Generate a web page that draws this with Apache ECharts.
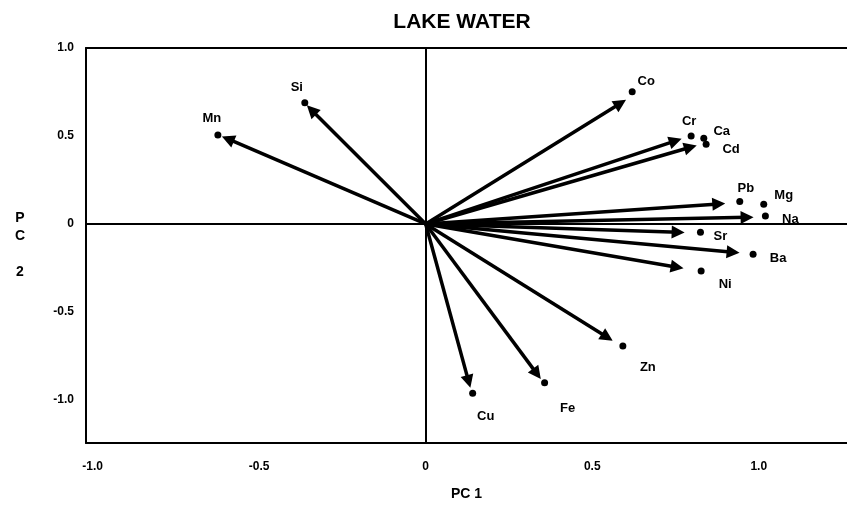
<!DOCTYPE html>
<html>
<head>
<meta charset="utf-8">
<script src="https://cdn.jsdelivr.net/npm/echarts@6/dist/echarts.min.js"></script>
<style>
html,body{margin:0;padding:0;background:#fff;}
#chart{width:847px;height:514px;}
</style>
</head>
<body>
<div id="chart"></div>
<script>
// ---- data ----
const titleText = 'LAKE WATER';
const categories = ['Si','Mn','Co','Cr','Ca','Cd','Pb','Mg','Na','Sr','Ba','Ni','Zn','Fe','Cu'];
const pointPC1 = [-0.363,-0.624,0.620,0.797,0.835,0.842,0.943,1.015,1.020,0.825,0.983,0.827,0.592,0.357,0.141];
const pointPC2 = [0.689,0.506,0.752,0.500,0.487,0.453,0.127,0.112,0.045,-0.047,-0.172,-0.267,-0.693,-0.902,-0.962];
const arrowPC1 = [-0.343,-0.594,0.585,0.750,null,0.795,0.880,null,0.965,0.758,0.923,0.755,0.545,0.334,0.129];
const arrowPC2 = [0.648,0.483,0.686,0.472,null,0.436,0.114,null,0.038,-0.047,-0.161,-0.246,-0.644,-0.852,-0.896];
const tickValues = [-1, -0.5, 0, 0.5, 1];
const tickLabels = ['-1.0', '-0.5', '0', '0.5', '1.0'];
const xAxisTitle = 'PC 1';
const yAxisTitle = 'P\nC\n\n2';

// ---- label placement (style) ----
const labelOffsets = {
  Si:[-8,-15], Mn:[-6,-16], Co:[14,-10], Cr:[-2,-15], Ca:[18,-7], Cd:[25,5],
  Pb:[6,-13], Mg:[20,-9], Na:[25,3], Sr:[20,4], Ba:[25,4], Ni:[24,13],
  Zn:[25,22], Fe:[23,26], Cu:[13,23]
};

const FONT = '"Liberation Sans", Arial, sans-serif';
const tickFmt = v => {
  const i = tickValues.findIndex(t => Math.abs(t - v) < 1e-9);
  return i >= 0 ? tickLabels[i] : '';
};

const pointData = categories.map((c, i) => ({
  name: c,
  value: [pointPC1[i], pointPC2[i]],
  label: { offset: labelOffsets[c] }
}));

const arrowData = [];
categories.forEach((c, i) => {
  if (arrowPC1[i] !== null) arrowData.push({ name: c, coords: [[0, 0], [arrowPC1[i], arrowPC2[i]]] });
});

const chart = echarts.init(document.getElementById('chart'), null, { renderer: 'canvas' });
chart.setOption({
  animation: false,
  backgroundColor: '#fff',
  title: {
    text: titleText, left: 457, top: 7, textAlign: 'center',
    textStyle: { fontFamily: FONT, fontWeight: 'bold', fontSize: 21, color: '#000' }
  },
  grid: { left: 86, top: 48, right: 0, bottom: 71 },
  xAxis: [{
    type: 'value', min: -1.02, max: 1.265, position: 'bottom',
    axisLine: { show: true, onZero: false, lineStyle: { color: '#000', width: 2 } },
    axisTick: { show: false },
    splitLine: { show: false },
    axisLabel: { customValues: tickValues, formatter: tickFmt, margin: 18,
      fontFamily: FONT, fontWeight: 'bold', fontSize: 12, color: '#000' },
    name: xAxisTitle, nameLocation: 'middle', nameGap: 44,
    nameTextStyle: { fontFamily: FONT, fontWeight: 'bold', fontSize: 14, color: '#000' }
  }, {
    type: 'value', min: -1.02, max: 1.265, position: 'top',
    axisLine: { show: true, onZero: false, lineStyle: { color: '#000', width: 2 } },
    axisTick: { show: false }, axisLabel: { show: false }, splitLine: { show: false }
  }],
  yAxis: {
    type: 'value', min: -1.245, max: 1.0,
    axisLine: { show: true, onZero: false, lineStyle: { color: '#000', width: 2 } },
    axisTick: { show: false },
    splitLine: { show: false },
    axisLabel: { customValues: tickValues, formatter: tickFmt, margin: 12,
      fontFamily: FONT, fontWeight: 'bold', fontSize: 12, color: '#000' },
    name: yAxisTitle, nameLocation: 'middle', nameRotate: 0, nameGap: 66,
    nameTextStyle: { fontFamily: FONT, fontWeight: 'bold', fontSize: 14, color: '#000',
      align: 'center', lineHeight: 18 }
  },
  series: [{
    type: 'lines',
    coordinateSystem: 'cartesian2d',
    xAxisIndex: 0, yAxisIndex: 0,
    silent: true,
    symbol: ['none', 'triangle'],
    symbolSize: [11, 13],
    lineStyle: { color: '#000', width: 3.5, opacity: 1, curveness: 0 },
    itemStyle: { color: '#000', opacity: 1 },
    data: arrowData,
    z: 3
  }, {
    type: 'scatter',
    xAxisIndex: 0, yAxisIndex: 0,
    symbol: 'circle', symbolSize: 7,
    itemStyle: { color: '#000', opacity: 1 },
    label: {
      show: true, position: 'inside', formatter: '{b}',
      fontFamily: FONT, fontWeight: 'bold', fontSize: 13, color: '#000', opacity: 1,
      align: 'center', verticalAlign: 'middle'
    },
    data: pointData,
    markLine: {
      silent: true, symbol: 'none',
      label: { show: false },
      lineStyle: { color: '#000', width: 2, type: 'solid', opacity: 1 },
      data: [{ xAxis: 0 }, { yAxis: 0 }]
    },
    z: 4
  }]
});
</script>
</body>
</html>
